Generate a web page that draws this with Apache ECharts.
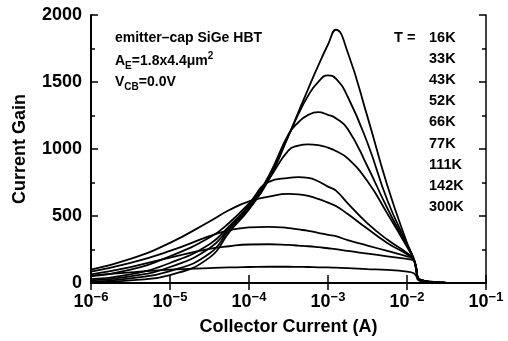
<!DOCTYPE html>
<html>
<head>
<meta charset="utf-8">
<script src="https://cdn.jsdelivr.net/npm/echarts@6/dist/echarts.min.js"></script>
<style>
  html, body { margin: 0; padding: 0; background: #fff; }
  #chart { width: 508px; height: 341px; }
</style>
</head>
<body>
<div id="chart"></div>
<script>
// Collector current sample points, as log10(Ic / A)
const logCurrent = [-6, -5.5, -5, -4.5, -4.25, -4, -3.75, -3.5, -3.375, -3.25, -3.125, -3, -2.9, -2.75, -2.5, -2.25, -2, -1.92, -1.885, -1.86, -1.8, -1.7, -1.6, -1.5, -1.35, -1];

// Current gain (beta) for each temperature
const gain16K  = [5, 20, 60, 190, 380, 550, 770, 1100, 1275, 1450, 1620, 1780, 1890, 1720, 1240, 730, 300, 190, 120, 40, 20, 10, 5, 2, 0, 0];
const gain33K  = [10, 35, 90, 220, 400, 560, 780, 1100, 1260, 1400, 1500, 1550, 1525, 1390, 1045, 620, 290, 188, 118, 38, 20, 10, 5, 2, 0, 0];
const gain43K  = [20, 50, 120, 260, 410, 570, 800, 1110, 1200, 1255, 1275, 1255, 1230, 1150, 870, 560, 280, 185, 116, 36, 19, 9, 5, 2, 0, 0];
const gain52K  = [30, 65, 150, 290, 425, 580, 775, 990, 1025, 1035, 1030, 1010, 985, 930, 760, 520, 270, 182, 114, 35, 18, 9, 4, 2, 0, 0];
const gain66K  = [50, 100, 200, 340, 450, 595, 755, 785, 790, 785, 760, 720, 690, 595, 445, 325, 225, 180, 112, 34, 18, 9, 4, 2, 0, 0];
const gain77K  = [100, 180, 300, 460, 545, 610, 645, 665, 662, 650, 628, 600, 575, 515, 405, 300, 215, 178, 110, 33, 17, 8, 4, 2, 0, 0];
const gain111K = [85, 150, 240, 350, 395, 415, 420, 410, 400, 390, 375, 360, 350, 320, 280, 240, 200, 178, 110, 32, 17, 8, 4, 2, 0, 0];
const gain142K = [65, 120, 190, 255, 275, 288, 290, 285, 280, 275, 268, 260, 254, 240, 220, 200, 180, 170, 105, 30, 16, 8, 4, 2, 0, 0];
const gain300K = [55, 80, 100, 112, 117, 120, 122, 122, 121, 120, 118, 117, 115, 112, 105, 98, 85, 75, 55, 25, 14, 7, 3, 1, 0, 0];

const temperatures = ['16K', '33K', '43K', '52K', '66K', '77K', '111K', '142K', '300K'];
const gainSeries = [gain16K, gain33K, gain43K, gain52K, gain66K, gain77K, gain111K, gain142K, gain300K];

// Axis tick values
const gainTicks = [0, 500, 1000, 1500, 2000];
const currentDecades = [-6, -5, -4, -3, -2, -1];

const FONT = '"Liberation Sans", Arial, Helvetica, sans-serif';
const chart = echarts.init(document.getElementById('chart'), null, { renderer: 'canvas' });

const series = gainSeries.map((vals, k) => ({
  name: temperatures[k],
  type: 'line',
  showSymbol: false,
  smooth: 0.5,
  lineStyle: { color: '#000', width: 1.8 },
  data: logCurrent.map((e, i) => [Math.pow(10, e), vals[i]])
}));

const tempLabels = temperatures.map((t, i) => ({
  type: 'text',
  x: 429, y: 38 + i * 21.1,
  style: { text: t, fill: '#000', font: 'bold 14.5px ' + FONT, align: 'left', verticalAlign: 'middle' }
}));

const option = {
  animation: false,
  backgroundColor: '#fff',
  grid: { left: 91, right: 22, top: 15, bottom: 57 },
  xAxis: [{
    type: 'log',
    logBase: 10,
    min: Math.pow(10, currentDecades[0]),
    max: Math.pow(10, currentDecades[currentDecades.length - 1]),
    splitNumber: 5,
    name: 'Collector Current (A)',
    nameLocation: 'middle',
    nameGap: 33,
    nameTextStyle: { color: '#000', fontFamily: FONT, fontWeight: 'bold', fontSize: 18 },
    axisLine: { lineStyle: { color: '#000', width: 2 } },
    axisTick: { inside: true, length: 8, lineStyle: { color: '#000', width: 1.5 } },
    minorTick: { show: false },
    splitLine: { show: false },
    axisLabel: {
      margin: 8,
      formatter: v => '{b|10}{e|' + String(Math.round(Math.log10(v))).replace('-', '−') + '}',
      rich: {
        b: { fontFamily: FONT, fontWeight: 'bold', fontSize: 18, color: '#000', lineHeight: 20, verticalAlign: 'bottom' },
        e: { fontFamily: FONT, fontWeight: 'bold', fontSize: 13, color: '#000', lineHeight: 20, verticalAlign: 'top', padding: [0, 0, 9, 0] }
      }
    }
  }, {
    type: 'log',
    logBase: 10,
    position: 'top',
    min: Math.pow(10, currentDecades[0]),
    max: Math.pow(10, currentDecades[currentDecades.length - 1]),
    splitNumber: 5,
    axisLine: { lineStyle: { color: '#000', width: 1.5 } },
    axisTick: { inside: true, length: 7, lineStyle: { color: '#000', width: 1.5 } },
    axisLabel: { show: false },
    splitLine: { show: false }
  }],
  yAxis: [{
    type: 'value',
    min: gainTicks[0],
    max: gainTicks[gainTicks.length - 1],
    interval: 500,
    name: 'Current Gain',
    nameLocation: 'middle',
    nameGap: 62,
    nameTextStyle: { color: '#000', fontFamily: FONT, fontWeight: 'bold', fontSize: 18 },
    axisLine: { show: true, lineStyle: { color: '#000', width: 2 } },
    axisTick: { inside: true, length: 7, lineStyle: { color: '#000', width: 1.5 } },
    minorTick: { show: true, splitNumber: 2, length: 4, lineStyle: { color: '#000', width: 1.5 } },
    splitLine: { show: false },
    axisLabel: { margin: 9, color: '#000', fontFamily: FONT, fontWeight: 'bold', fontSize: 18, formatter: v => String(v) }
  }, {
    type: 'value',
    position: 'right',
    min: gainTicks[0],
    max: gainTicks[gainTicks.length - 1],
    interval: 500,
    axisLine: { show: true, lineStyle: { color: '#000', width: 1.5 } },
    axisTick: { inside: true, length: 7, lineStyle: { color: '#000', width: 1.5 } },
    minorTick: { show: true, splitNumber: 2, length: 4, lineStyle: { color: '#000', width: 1.5 } },
    splitLine: { show: false },
    axisLabel: { show: false }
  }],
  series: series,
  graphic: [{
    type: 'text', x: 115, y: 38,
    style: { text: 'emitter–cap SiGe HBT', fill: '#000', font: 'bold 14px ' + FONT, align: 'left', verticalAlign: 'middle' }
  }, {
    type: 'text', x: 115, y: 61,
    style: {
      text: '{n|A}{s|E}{n|=1.8x4.4μm}{p|2}',
      align: 'left', verticalAlign: 'middle',
      rich: {
        n: { fill: '#000', font: 'bold 14px ' + FONT, lineHeight: 20, verticalAlign: 'middle' },
        s: { fill: '#000', font: 'bold 10px ' + FONT, lineHeight: 20, verticalAlign: 'bottom' },
        p: { fill: '#000', font: 'bold 10px ' + FONT, lineHeight: 20, verticalAlign: 'top' }
      }
    }
  }, {
    type: 'text', x: 115, y: 82,
    style: {
      text: '{n|V}{s|CB}{n|=0.0V}',
      align: 'left', verticalAlign: 'middle',
      rich: {
        n: { fill: '#000', font: 'bold 14px ' + FONT, lineHeight: 20, verticalAlign: 'middle' },
        s: { fill: '#000', font: 'bold 10px ' + FONT, lineHeight: 20, verticalAlign: 'bottom' }
      }
    }
  }, {
    type: 'text', x: 394, y: 38,
    style: { text: 'T =', fill: '#000', font: 'bold 14.5px ' + FONT, align: 'left', verticalAlign: 'middle' }
  }].concat(tempLabels)
};

chart.setOption(option);
</script>
</body>
</html>
